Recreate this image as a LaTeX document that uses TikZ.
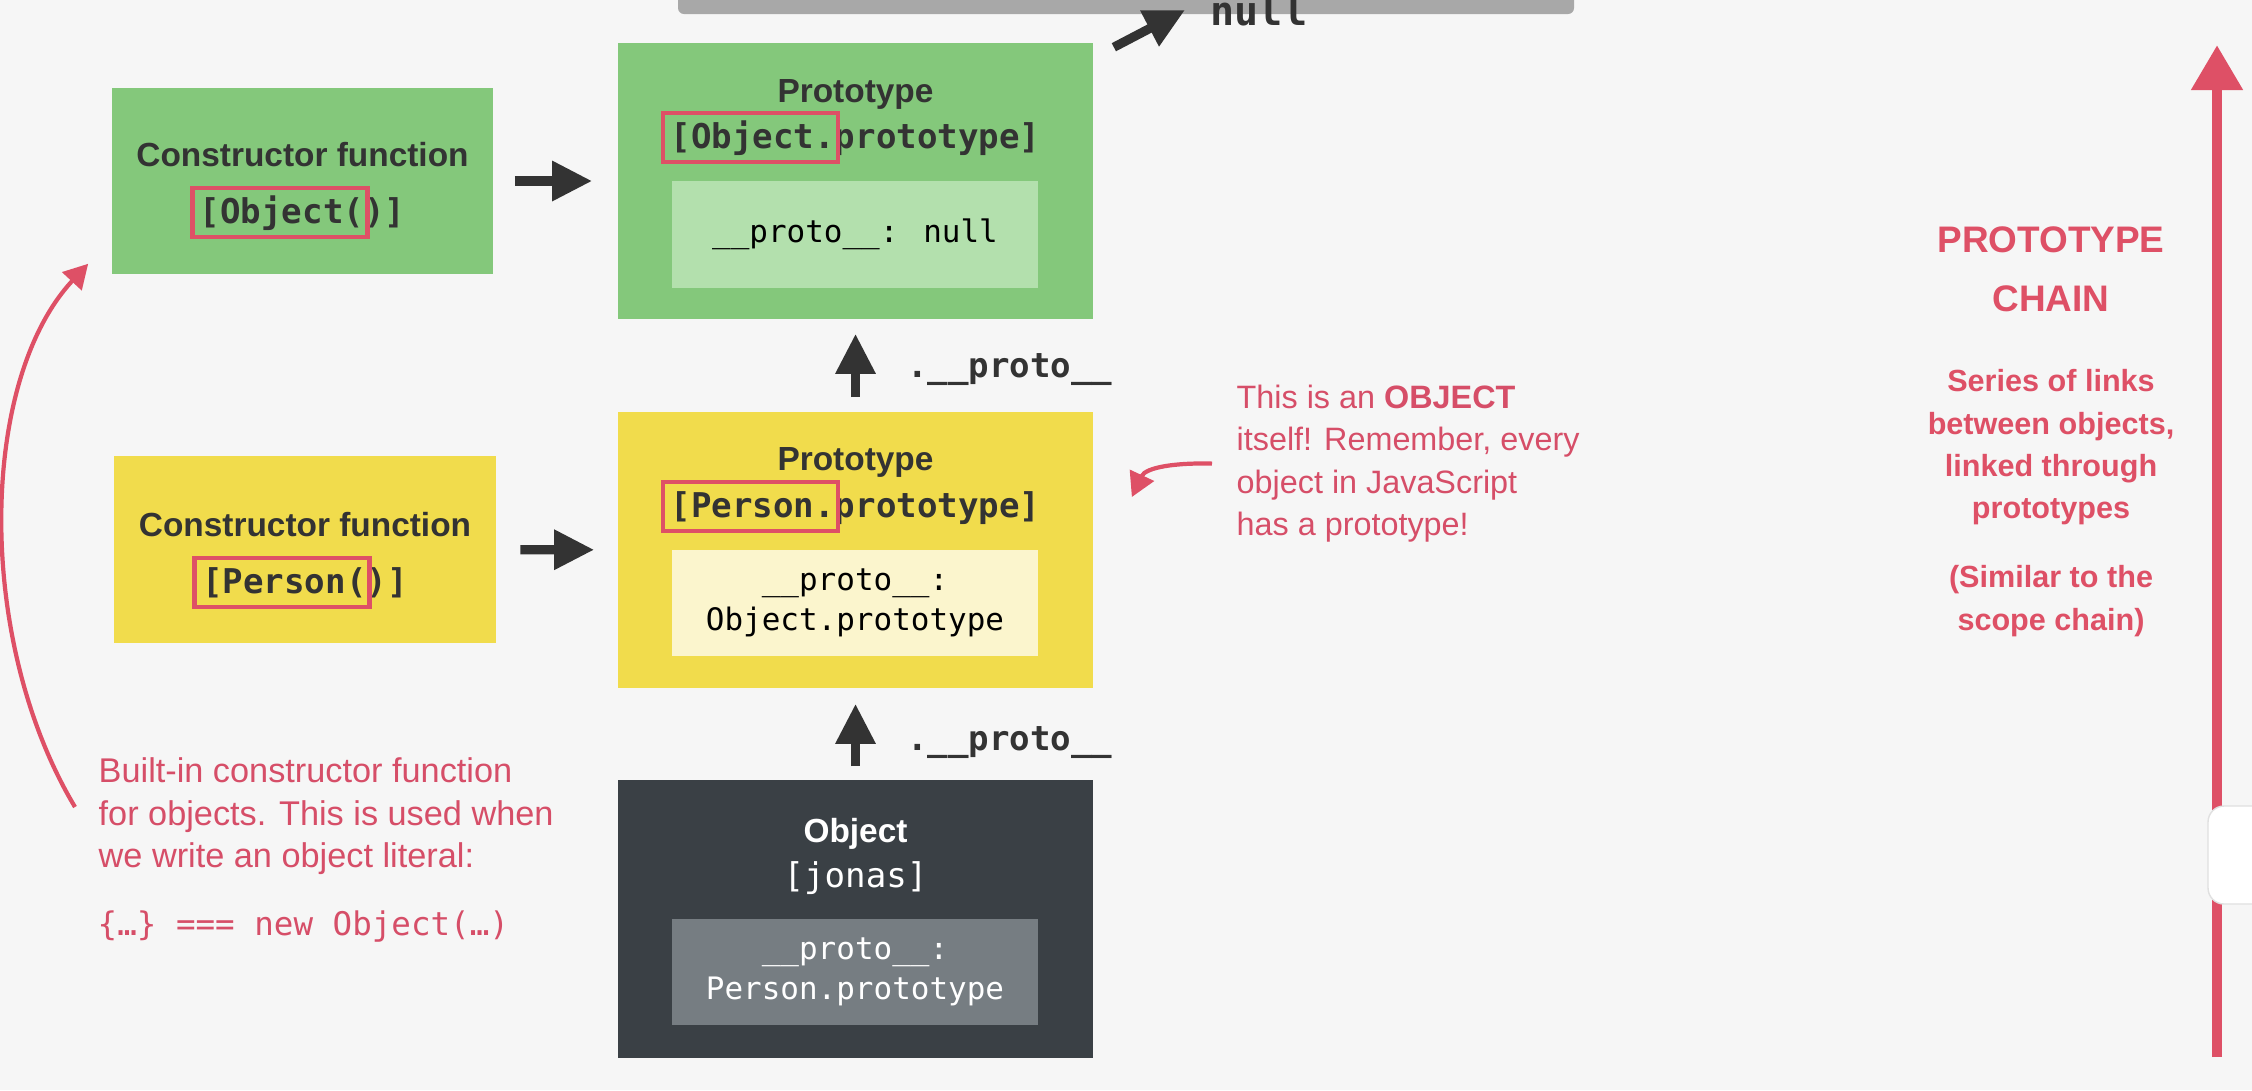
\documentclass[tikz,border=0pt]{standalone}
\usepackage{fontspec}
\setmainfont{Liberation Sans}
\newfontfamily\codefont{DejaVu Sans Mono}
\usetikzlibrary{arrows.meta, positioning, calc}
\definecolor{slidebg}{RGB}{246,246,246}
\definecolor{objgreen}{RGB}{132,200,123}
\definecolor{objgreenlight}{RGB}{179,224,173}
\definecolor{persyellow}{RGB}{241,220,76}
\definecolor{persyellowlight}{RGB}{251,245,205}
\definecolor{jonasdark}{RGB}{58,64,69}
\definecolor{jonasgrey}{RGB}{118,125,130}
\definecolor{inkdark}{RGB}{51,51,51}
\definecolor{chainred}{RGB}{222,80,102}
\definecolor{notered}{RGB}{214,78,104}
\definecolor{playerbar}{RGB}{168,168,168}
\tikzset{
  ctorbox/.style={
    minimum width=3.81cm,
    minimum height=1.86cm,
    inner sep=0pt
  },
  protobox/.style={
    minimum width=4.75cm,
    minimum height=2.76cm,
    inner sep=0pt
  },
  slotbox/.style={
    minimum width=3.66cm,
    minimum height=1.06cm,
    inner sep=0pt,
    align=center,
    font=\codefont\fontsize{8.8}{11.4}\selectfont
  },
  boxtitle/.style={
    anchor=base,
    inner sep=0pt,
    text=inkdark,
    font=\bfseries\fontsize{9.5}{11}\selectfont
  },
  boxcode/.style={
    anchor=base,
    inner sep=0pt,
    text=inkdark,
    font=\codefont\bfseries\fontsize{9.7}{11}\selectfont
  },
  hlbox/.style={
    draw=chainred,
    line width=1.4pt
  },
  chainlink/.style={
    draw=inkdark,
    line width=2.6pt,
    -{Triangle[length=0.4cm, width=0.38cm]}
  },
  protolabel/.style={
    anchor=west,
    xshift=0.47cm,
    inner sep=0pt,
    text=inkdark,
    font=\codefont\bfseries\fontsize{9.7}{11}\selectfont
  },
  note/.style={
    anchor=north west,
    inner sep=0pt,
    align=left,
    text=notered,
    font=\fontsize{9.5}{12.1}\selectfont
  },
  notearrow/.style={
    draw=chainred,
    line width=1.2pt,
    -{Triangle[length=0.24cm, width=0.26cm]}
  },
  chaintext/.style={
    anchor=north,
    inner sep=0pt,
    align=center,
    text=chainred,
    font=\bfseries\fontsize{8.7}{12}\selectfont
  }
}
\begin{document}
\begin{tikzpicture}[x=0.01cm, y=-0.01cm]
  \useasboundingbox (0,0) rectangle (2252,1090);
  \fill[slidebg] (0,0) rectangle (2252,1090);

  % player overlay
  \fill[playerbar, rounded corners=0.06cm] (678,-20) rectangle (1574,14);

  % constructor functions
  \node[ctorbox, fill=objgreen] (objctor) at (302.5,181) {};
  \node[boxtitle] (objctortitle) at (302.5,166) {Constructor function};
  \node[boxcode] (objctorcode) at (302.5,223) {[Object()]};

  \node[ctorbox, fill=persyellow] (perctor) at (305,549.5) {};
  \node[boxtitle] (perctortitle) at (305,536) {Constructor function};
  \node[boxcode] (perctorcode) at (305,593) {[Person()]};

  % prototypes
  \node[protobox, fill=objgreen] (objproto) at (855.5,181) {};
  \node[boxtitle] (objprototitle) at (855.5,102) {Prototype};
  \node[boxcode] (objprotocode) at (855.5,148) {[Object.prototype]};
  \node[slotbox, fill=objgreenlight] (objslot) at (855,234.5) {\_\_proto\_\_: null};

  \node[protobox, fill=persyellow] (perproto) at (855.5,550) {};
  \node[boxtitle] (perprototitle) at (855.5,470) {Prototype};
  \node[boxcode] (perprotocode) at (855.5,517) {[Person.prototype]};
  \node[slotbox, fill=persyellowlight] (perslot) at (855,603) {\_\_proto\_\_:\\Object.prototype};

  % the object
  \node[protobox, fill=jonasdark, minimum height=2.78cm] (jonas) at (855.5,919) {};
  \node[boxtitle, text=white] (jonastitle) at (855.5,842) {Object};
  \node[boxcode, text=white, font=\codefont\fontsize{9.7}{11}\selectfont] (jonascode) at (855.5,887) {[jonas]};
  \node[slotbox, fill=jonasgrey, text=white] (jonasslot) at (855,972) {\_\_proto\_\_:\\Person.prototype};

  % red frames
  \foreach \c in {objctorcode, perctorcode, objprotocode, perprotocode}
    \draw[hlbox] ([shift={(-7,-35)}]\c.base west) rectangle ([shift={(168,14)}]\c.base west);

  % links
  \draw[chainlink, shorten <=0.21cm, shorten >=0.25cm] (objctor) -- (objproto);
  \draw[chainlink, shorten <=0.24cm, shorten >=0.23cm] (perctor) -- (perproto);
  \draw[chainlink, shorten <=0.14cm, shorten >=0.14cm] (perproto) -- node[protolabel, yshift=-0.04cm] {.\_\_proto\_\_} (objproto);
  \draw[chainlink, shorten <=0.13cm, shorten >=0.15cm] (jonas) -- node[protolabel, yshift=-0.09cm] {.\_\_proto\_\_} (perproto);

  \node[anchor=base west, inner sep=0pt, text=inkdark, font=\codefont\bfseries\fontsize{11.4}{13}\selectfont] (nullval) at (1210,25) {null};
  \draw[chainlink] ([shift={(20,5)}]objproto.north east) -- ([shift={(-25,-15)}]nullval.base west);

  % notes
  \node[note, font=\fontsize{9.2}{12.1}\selectfont] (objnote) at (1236,384) {This is an \textbf{OBJECT}\\itself! Remember, every\\object in JavaScript\\has a prototype!};
  \draw[notearrow] ([xshift=-0.24cm]objnote.west) .. controls +(-35,-1) and +(14,-30) .. ([shift={(38,-53)}]perproto.east);

  \node[note, font=\fontsize{9.75}{12.1}\selectfont] (builtnote) at (98,757) {Built-in constructor function\\for objects. This is used when\\we write an object literal:};
  \node[anchor=base west, inner sep=0pt, text=notered, font=\codefont\fontsize{9.25}{11}\selectfont] (literal) at (97,935) {\{…\} === new Object(…)};
  \draw[notearrow] ([shift={(-23,50)}]builtnote.north west) .. controls +(-100,-167) and +(-109,117) .. ([shift={(-23,-11)}]objctor.south west);

  % chain
  \coordinate (chainfoot) at (2217,1057);
  \coordinate (chaintop) at (2217,45);
  \draw[draw=chainred, line width=3.1pt, -{Triangle[length=0.45cm, width=0.49cm]}] (chainfoot) -- (chaintop);
  \node[chaintext, font=\bfseries\fontsize{10.5}{16.8}\selectfont] (chainhead) at (2051,226) {PROTOTYPE\\CHAIN};
  \node[chaintext] (chaindesc) at (2051,369) {Series of links\\between objects,\\linked through\\prototypes};
  \node[chaintext] (chainnote) at (2051,565) {(Similar to the\\scope chain)};

  \filldraw[fill=white, draw=black!12, rounded corners=0.16cm] (2208,806) rectangle (2300,904);
\end{tikzpicture}
\end{document}
